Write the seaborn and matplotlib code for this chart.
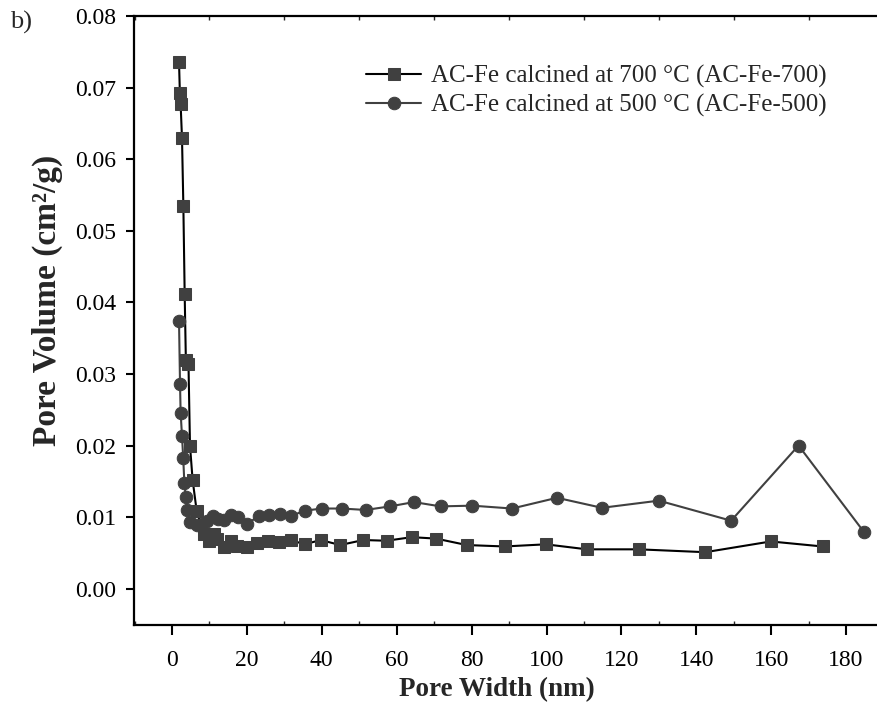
import numpy as np
import pandas as pd
import matplotlib
matplotlib.use("Agg")
import matplotlib.pyplot as plt
from matplotlib.ticker import MultipleLocator
import seaborn as sns

# ---- data ----
x700 = [1.87, 2.1, 2.3, 2.67, 3.03, 3.38, 3.7, 4.4, 4.8, 5.5, 6.6, 8.5, 9.8, 11.2, 12.1,
        14.0, 15.7, 17.4, 19.9, 22.8, 25.5, 28.5, 31.7, 35.4, 39.7, 44.9, 51.1, 57.3,
        64.0, 70.5, 78.7, 88.8, 99.8, 110.8, 124.6, 142.4, 159.9, 173.7]
y700 = [0.0736, 0.0692, 0.0677, 0.0629, 0.0535, 0.0412, 0.0319, 0.0314, 0.0200, 0.0152,
        0.0108, 0.0077, 0.0067, 0.0077, 0.0070, 0.0058, 0.0067, 0.0060, 0.0058, 0.0064,
        0.0066, 0.0065, 0.0068, 0.0062, 0.0068, 0.0061, 0.0068, 0.0067, 0.0072, 0.0070,
        0.0061, 0.0059, 0.0062, 0.0055, 0.0055, 0.0051, 0.0066, 0.0059]

x500 = [1.87, 2.14, 2.3, 2.67, 3.0, 3.3, 3.7, 4.1, 4.8, 6.6, 7.9, 9.4, 11.0, 12.4, 14.0,
        15.7, 17.7, 20.1, 23.1, 26.0, 28.8, 31.9, 35.5, 40.0, 45.3, 51.7, 58.2, 64.6,
        71.7, 80.2, 90.8, 102.8, 114.8, 130.0, 149.3, 167.3, 184.8]
y500 = [0.0374, 0.0286, 0.0246, 0.0213, 0.0182, 0.0147, 0.0128, 0.0110, 0.0093, 0.0089,
        0.0091, 0.0094, 0.0102, 0.0098, 0.0096, 0.0103, 0.0100, 0.0090, 0.0102, 0.0103,
        0.0104, 0.0102, 0.0109, 0.0112, 0.0112, 0.0110, 0.0115, 0.0121, 0.0115, 0.0116,
        0.0112, 0.0127, 0.0113, 0.0123, 0.0095, 0.0200, 0.0079]

label700 = "AC-Fe calcined at 700 \u00b0C (AC-Fe-700)"
label500 = "AC-Fe calcined at 500 \u00b0C (AC-Fe-500)"
xticks = [0, 20, 40, 60, 80, 100, 120, 140, 160, 180]
yticks = [0.00, 0.01, 0.02, 0.03, 0.04, 0.05, 0.06, 0.07, 0.08]

sns.set_style("ticks")
plt.rcParams['font.family'] = ['Liberation Serif', 'DejaVu Serif']
plt.rcParams['mathtext.fontset'] = 'stix'

fig = plt.figure(figsize=(8.78, 7.13), dpi=100)
ax = fig.add_axes([134 / 878, 88 / 713, (921 - 134) / 878, (625 - 16) / 713])

mk = '#404040'
sns.lineplot(x=x700, y=y700, ax=ax, sort=False, color='black', lw=1.5,
             marker='s', markersize=8, markerfacecolor=mk, markeredgecolor=mk,
             label=label700)
sns.lineplot(x=x500, y=y500, ax=ax, sort=False, color='#404040', lw=1.5,
             marker='o', markersize=9, markerfacecolor=mk, markeredgecolor=mk,
             label=label500)

ax.set_xlim(-10.15, 200)
ax.set_ylim(-0.00507, 0.08)
ax.set_xticks(xticks)
ax.set_xticklabels([str(t) for t in xticks])
ax.set_yticks(yticks)
ax.set_yticklabels([f"{t:.2f}" for t in yticks])
ax.xaxis.set_minor_locator(MultipleLocator(10))

for s in ax.spines.values():
    s.set_linewidth(1.6)
    s.set_color('black')

ax.tick_params(axis='both', which='major', labelsize=17, colors='black',
               width=1.5)
ax.tick_params(axis='x', which='major', direction='out', length=7, pad=11)
ax.tick_params(axis='y', which='major', direction='out', length=6, pad=7)
ax.tick_params(axis='x', which='minor', direction='in', length=3, width=1.0,
               top=True)
ax.tick_params(axis='x', which='major', top=False)

ax.set_xlabel("Pore Width (nm)", fontsize=19.5, fontweight='bold')
ax.set_ylabel("Pore Volume (cm\u00b2/g)", fontsize=24, fontweight='bold')
ax.xaxis.label.set_va('center')
ax.yaxis.label.set_va('center')
ax.xaxis.set_label_coords((497 - 134) / 787, (23 - 88) / 609)
ax.yaxis.set_label_coords((47 - 134) / 787, (413 - 88) / 609)

leg = ax.legend(loc='upper left', bbox_to_anchor=(366 / 878, 1 - 65 / 713),
                bbox_transform=fig.transFigure, frameon=False, fontsize=18,
                handlelength=2.2, handletextpad=0.4, borderpad=0, borderaxespad=0,
                labelspacing=0.25)

fig.text(21 / 878, 1 - 22 / 713, "b)", fontsize=19, ha='center', va='center')

fig.savefig("out.png", dpi=100)
